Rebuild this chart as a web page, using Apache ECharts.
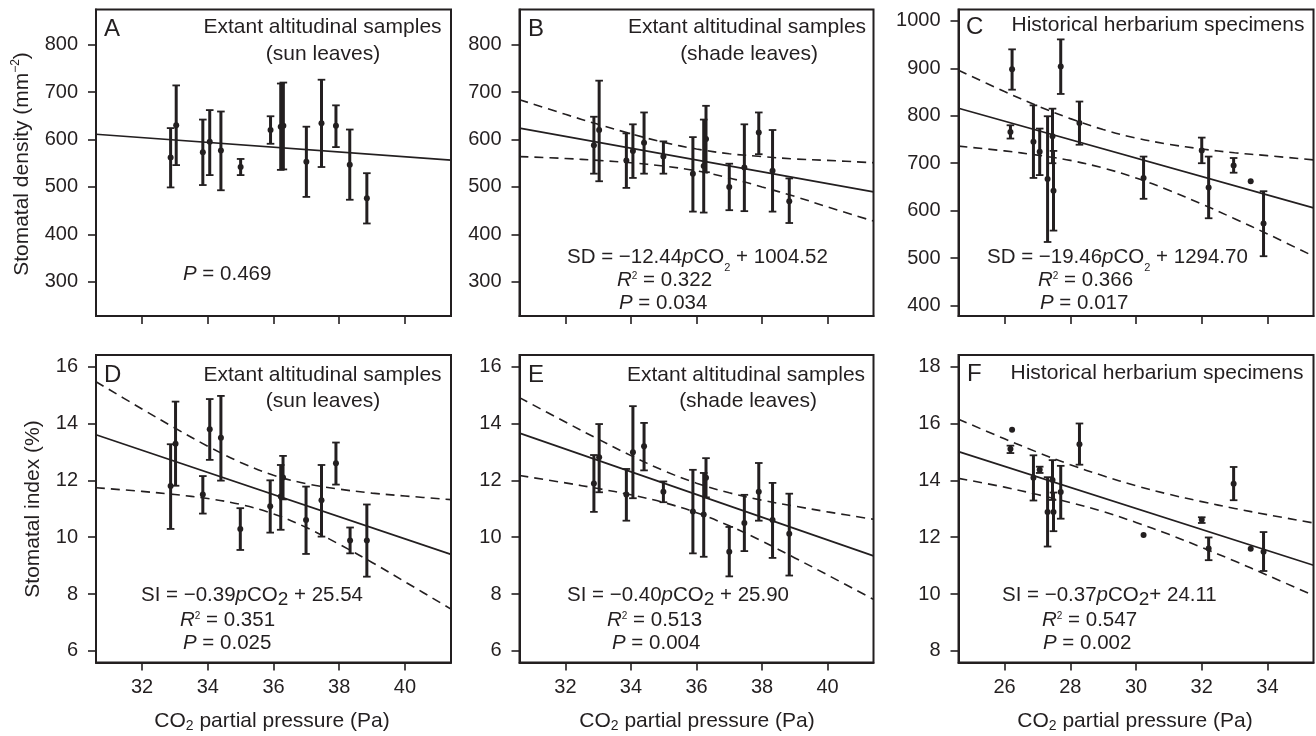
<!DOCTYPE html>
<html>
<head>
<meta charset="utf-8">
<script src="https://cdn.jsdelivr.net/npm/echarts@6/dist/echarts.min.js"></script>
<style>
  html, body { margin: 0; padding: 0; background: #ffffff; }
  #chart { width: 1316px; height: 736px; }
</style>
</head>
<body>
<div id="chart"></div>
<script>
// ---- Extant altitudinal samples, sun leaves: CO2 partial pressure (Pa) ----
const sunX = [32.87, 33.04, 33.85, 34.06, 34.40, 35.00, 35.91, 36.22, 36.30, 37.00, 37.46, 37.90, 38.32, 38.84];
// Stomatal density (mm-2), mean and error-bar ends
const sunSD     = [562, 630, 573, 595, 577, 542, 620, 627, 629, 553, 634, 629, 547, 476];
const sunSDLow  = [499, 546, 504, 525, 493, 525, 591, 536, 537, 479, 542, 584, 473, 423];
const sunSDHigh = [624, 714, 642, 662, 659, 559, 649, 718, 720, 627, 726, 672, 621, 529];
// Stomatal index (%), sun leaves
const sunSIx    = [32.87, 33.02, 33.85, 34.06, 34.40, 34.99, 35.90, 36.22, 36.29, 36.99, 37.46, 37.90, 38.33, 38.84];
const sunSI     = [11.80, 13.29, 11.50, 13.80, 13.50, 10.29, 11.09, 11.43, 12.10, 10.60, 11.30, 12.60, 9.88, 9.88];
const sunSILow  = [10.29, 11.81, 10.83, 12.72, 11.99, 9.55, 10.16, 10.26, 11.33, 9.41, 10.02, 11.85, 9.43, 8.61];
const sunSIHigh = [13.27, 14.77, 12.15, 14.86, 14.97, 11.02, 12.00, 12.54, 12.86, 11.78, 12.54, 13.33, 10.34, 11.15];

// ---- Extant altitudinal samples, shade leaves ----
const shadeX = [32.87, 33.03, 33.86, 34.06, 34.40, 34.99, 35.89, 36.22, 36.29, 37.00, 37.46, 37.90, 38.32, 38.83];
const shadeSD     = [588, 620, 556, 576, 593, 564, 528, 544, 601, 500, 541, 615, 534, 470];
const shadeSDLow  = [528, 512, 498, 519, 528, 528, 448, 446, 531, 451, 449, 569, 448, 424];
const shadeSDHigh = [648, 724, 613, 632, 657, 596, 605, 642, 671, 549, 632, 657, 620, 518];
const shadeSI     = [11.89, 12.81, 11.50, 12.99, 13.20, 11.60, 10.90, 10.80, 12.09, 9.49, 10.50, 11.60, 10.60, 10.12];
const shadeSILow  = [10.89, 11.58, 10.58, 11.37, 12.35, 11.23, 9.43, 9.31, 11.40, 8.62, 9.51, 10.58, 9.27, 8.65];
const shadeSIHigh = [12.89, 13.98, 12.40, 14.61, 14.02, 11.96, 12.37, 12.26, 12.78, 10.36, 11.49, 12.61, 11.91, 11.53];

// ---- Historical herbarium specimens (null = no error bar) ----
const herbX = [26.18, 26.23, 26.88, 27.07, 27.31, 27.46, 27.49, 27.71, 28.28, 30.23, 32.00, 32.21, 32.97, 33.49, 33.88];
const herbSD     = [766, 898, 745, 724, 667, 757, 642, 904, 785, 669, 727, 649, 695, 662, 573];
const herbSDLow  = [752, 855, 669, 675, 534, 700, 558, 846, 739, 625, 700, 584, 680, null, 504];
const herbSDHigh = [780, 940, 822, 773, 799, 815, 726, 961, 830, 714, 754, 714, 711, null, 641];
const herbSI     = [15.10, 15.78, 14.09, 14.37, 12.89, 14.01, 12.89, 13.59, 15.27, 12.08, 12.61, 11.60, 13.88, 11.59, 11.49];
const herbSILow  = [14.96, null, 13.29, 14.26, 11.67, 13.31, 12.21, 12.65, 14.55, null, 12.50, 11.19, 13.30, null, 10.81];
const herbSIHigh = [15.22, null, 14.88, 14.48, 14.11, 14.71, 13.57, 14.51, 16.00, null, 12.70, 11.99, 14.47, null, 12.18];

// ---- Regression fits, panels A–F (value = slope * pCO2 + intercept) ----
const fitSlope     = [-5.05, -12.44, -19.46, -0.39, -0.40, -0.37];
const fitIntercept = [765.6, 1004.52, 1294.70, 25.54, 25.90, 24.11];

// ---- 95% confidence bands (dashed), read at fixed pCO2 positions ----
const altBandX  = [30.6, 32, 33, 34, 35, 36, 37, 38, 39, 40, 41.4];
const herbBandX = [24.6, 26, 27, 28, 29, 30, 31, 32, 33, 34, 35.4];
const bandBUp = [684, 653, 632, 612, 594, 580, 570, 564, 559, 556, 551];
const bandBLo = [564, 560, 556, 551, 544, 534, 519, 500, 480, 458, 428];
const bandCUp = [896, 851, 821, 794, 771, 753, 740, 730, 722, 716, 707];
const bandCLo = [736, 726, 717, 706, 690, 669, 643, 614, 583, 551, 504];
const bandDUp = [15.47, 14.51, 13.84, 13.20, 12.63, 12.18, 11.88, 11.69, 11.55, 11.45, 11.32];
const bandDLo = [11.74, 11.61, 11.50, 11.36, 11.15, 10.82, 10.34, 9.75, 9.11, 8.43, 7.47];
const bandEUp = [14.91, 14.05, 13.45, 12.87, 12.34, 11.90, 11.56, 11.30, 11.09, 10.89, 10.63];
const bandELo = [12.17, 11.91, 11.71, 11.49, 11.22, 10.86, 10.40, 9.86, 9.27, 8.67, 7.81];
const bandFUp = [16.15, 15.46, 14.99, 14.55, 14.16, 13.81, 13.51, 13.25, 13.01, 12.79, 12.50];
const bandFLo = [14.07, 13.76, 13.50, 13.22, 12.90, 12.52, 12.10, 11.64, 11.16, 10.66, 9.95];

// ---- Axis ticks ----
const altTicks  = [32, 34, 36, 38, 40];
const herbTicks = [26, 28, 30, 32, 34];
const sdTicks   = [300, 400, 500, 600, 700, 800];
const sdHerbTicks = [400, 500, 600, 700, 800, 900, 1000];
const siTicks   = [6, 8, 10, 12, 14, 16];
const siHerbTicks = [8, 10, 12, 14, 16, 18];

// ---- Rendering ----
const ink = '#231f20';
const FONT = '"Liberation Sans", Arial, Helvetica, sans-serif';

// panel layout: [left, width] per column, [top, height] per row
const cols = [[96, 355], [519.5, 354], [958.5, 355]];
const rows = [[9.5, 306.5], [355, 307.5]];

const panels = [
  { x: sunX,   y: sunSD,   lo: sunSDLow,   hi: sunSDHigh,   xr: [30.6, 41.4], yr: [228, 874],     xt: altTicks,  yt: sdTicks,     band: null },
  { x: shadeX, y: shadeSD, lo: shadeSDLow, hi: shadeSDHigh, xr: [30.6, 41.4], yr: [228, 874],     xt: altTicks,  yt: sdTicks,     band: [altBandX, bandBUp, bandBLo] },
  { x: herbX,  y: herbSD,  lo: herbSDLow,  hi: herbSDHigh,  xr: [24.6, 35.4], yr: [378, 1024],    xt: herbTicks, yt: sdHerbTicks, band: [herbBandX, bandCUp, bandCLo] },
  { x: sunSIx, y: sunSI,   lo: sunSILow,   hi: sunSIHigh,   xr: [30.6, 41.4], yr: [5.59, 16.41],  xt: altTicks,  yt: siTicks,     band: [altBandX, bandDUp, bandDLo] },
  { x: shadeX, y: shadeSI, lo: shadeSILow, hi: shadeSIHigh, xr: [30.6, 41.4], yr: [5.59, 16.41],  xt: altTicks,  yt: siTicks,     band: [altBandX, bandEUp, bandELo] },
  { x: herbX,  y: herbSI,  lo: herbSILow,  hi: herbSIHigh,  xr: [24.6, 35.4], yr: [7.59, 18.41],  xt: herbTicks, yt: siHerbTicks, band: [herbBandX, bandFUp, bandFLo] }
];

function errorBar(params, api) {
  const x = api.value(0);
  const top = api.coord([x, api.value(3)]);
  const bot = api.coord([x, api.value(2)]);
  const c = 3.8;
  const st = { stroke: ink, lineWidth: 3 };
  const cap = { stroke: ink, lineWidth: 1.8 };
  return {
    type: 'group',
    children: [
      { type: 'line', shape: { x1: top[0], y1: top[1], x2: bot[0], y2: bot[1] }, style: st },
      { type: 'line', shape: { x1: top[0] - c, y1: top[1], x2: top[0] + c, y2: top[1] }, style: cap },
      { type: 'line', shape: { x1: bot[0] - c, y1: bot[1], x2: bot[0] + c, y2: bot[1] }, style: cap }
    ]
  };
}

const plainNumber = v => String(v);
const grids = [], xAxes = [], yAxes = [], series = [];
panels.forEach((p, i) => {
  const col = cols[i % 3], row = rows[Math.floor(i / 3)];
  const bottomRow = i >= 3;
  grids.push({
    left: col[0], top: row[0], width: col[1], height: row[1],
    show: true, borderColor: ink, borderWidth: 2, backgroundColor: 'transparent'
  });
  xAxes.push({
    type: 'value', gridIndex: i, min: p.xr[0], max: p.xr[1],
    axisLine: { show: true, lineStyle: { color: ink, width: 2 } },
    axisTick: { show: true, length: 8, lineStyle: { color: ink, width: 1.6 }, customValues: p.xt },
    axisLabel: { show: bottomRow, customValues: p.xt, formatter: plainNumber, margin: 15, fontSize: 20, color: ink, fontFamily: FONT },
    splitLine: { show: false }
  });
  yAxes.push({
    type: 'value', gridIndex: i, min: p.yr[0], max: p.yr[1],
    axisLine: { show: true, lineStyle: { color: ink, width: 2 } },
    axisTick: { show: true, length: 8, lineStyle: { color: ink, width: 1.6 }, customValues: p.yt },
    axisLabel: { show: true, customValues: p.yt, formatter: plainNumber, margin: 18, fontSize: 20, color: ink, fontFamily: FONT },
    splitLine: { show: false }
  });

  const bars = [];
  p.x.forEach((x, k) => { if (p.lo[k] != null) bars.push([x, p.y[k], p.lo[k], p.hi[k]]); });
  series.push({
    type: 'custom', xAxisIndex: i, yAxisIndex: i, data: bars,
    encode: { x: 0, y: [2, 3] }, renderItem: errorBar, silent: true, z: 3
  });
  series.push({
    type: 'scatter', xAxisIndex: i, yAxisIndex: i,
    data: p.x.map((x, k) => [x, p.y[k]]),
    symbol: 'circle', symbolSize: 6, itemStyle: { color: ink, opacity: 1 }, silent: true, z: 4
  });
  const s = fitSlope[i], b = fitIntercept[i];
  series.push({
    type: 'line', xAxisIndex: i, yAxisIndex: i,
    data: [[p.xr[0], s * p.xr[0] + b], [p.xr[1], s * p.xr[1] + b]],
    symbol: 'none', lineStyle: { color: ink, width: 1.7 }, silent: true, z: 2
  });
  if (p.band) {
    const [bx, up, lo] = p.band;
    [up, lo].forEach(arr => {
      series.push({
        type: 'line', xAxisIndex: i, yAxisIndex: i,
        data: bx.map((x, k) => [x, arr[k]]),
        smooth: 0.35, symbol: 'none',
        lineStyle: { color: ink, width: 1.6, type: [9, 6] }, silent: true, z: 2
      });
    });
  }
});

// ---- Text ----
function txt(x, y, text, opt) {
  opt = opt || {};
  const size = opt.size || 20.5;
  const lh = opt.lh || size + 3;
  return {
    type: 'text', x: x, y: y, rotation: opt.rot || 0, silent: true,
    style: {
      text: text, fill: ink, fontSize: size, fontFamily: FONT, lineHeight: lh,
      align: opt.align || 'left', verticalAlign: 'middle',
      rich: {
        i:   { fontStyle: 'italic', fontSize: size, fontFamily: FONT, color: ink, lineHeight: lh },
        sub: { fontSize: opt.subSize || 11, fontFamily: FONT, color: ink, lineHeight: opt.subSize || 11, verticalAlign: 'bottom' },
        sup: { fontSize: opt.supSize || 10, fontFamily: FONT, color: ink, lineHeight: opt.supSize || 10, verticalAlign: 'top' }
      }
    }
  };
}

const graphics = [
  // panel letters
  txt(104, 29, 'A', { size: 24 }), txt(528, 29, 'B', { size: 24 }), txt(966, 27, 'C', { size: 24 }),
  txt(104, 375, 'D', { size: 24 }), txt(528, 375, 'E', { size: 24 }), txt(967, 374, 'F', { size: 24 }),
  // panel headings
  txt(322.5, 27, 'Extant altitudinal samples', { size: 21, align: 'center' }),
  txt(323, 54, '(sun leaves)', { size: 21, align: 'center' }),
  txt(747, 27, 'Extant altitudinal samples', { size: 21, align: 'center' }),
  txt(749, 54, '(shade leaves)', { size: 21, align: 'center' }),
  txt(1158, 25, 'Historical herbarium specimens', { size: 21, align: 'center' }),
  txt(322.5, 375, 'Extant altitudinal samples', { size: 21, align: 'center' }),
  txt(323, 401, '(sun leaves)', { size: 21, align: 'center' }),
  txt(746, 375, 'Extant altitudinal samples', { size: 21, align: 'center' }),
  txt(748, 401, '(shade leaves)', { size: 21, align: 'center' }),
  txt(1157, 373, 'Historical herbarium specimens', { size: 21, align: 'center' }),
  // statistics
  txt(183, 274, '{i|P} = 0.469'),
  txt(567, 257, 'SD = −12.44{i|p}CO{sub|2} + 1004.52', { lh: 33, subSize: 11 }),
  txt(617, 280, '{i|R}{sup|2} = 0.322', { lh: 18 }),
  txt(619, 303, '{i|P} = 0.034'),
  txt(987, 257, 'SD = −19.46{i|p}CO{sub|2} + 1294.70', { lh: 33, subSize: 11 }),
  txt(1038, 280, '{i|R}{sup|2} = 0.366', { lh: 18 }),
  txt(1040, 303, '{i|P} = 0.017'),
  txt(141, 595, 'SI = −0.39{i|p}CO{sub|2} + 25.54', { lh: 28, subSize: 19 }),
  txt(180, 620, '{i|R}{sup|2} = 0.351', { lh: 18 }),
  txt(183, 643, '{i|P} = 0.025'),
  txt(567, 595, 'SI = −0.40{i|p}CO{sub|2} + 25.90', { lh: 28, subSize: 19 }),
  txt(607, 620, '{i|R}{sup|2} = 0.513', { lh: 18 }),
  txt(612, 643, '{i|P} = 0.004'),
  txt(1002, 595, 'SI = −0.37{i|p}CO{sub|2}+ 24.11', { lh: 28, subSize: 19 }),
  txt(1042, 620, '{i|R}{sup|2} = 0.547', { lh: 18 }),
  txt(1043, 643, '{i|P} = 0.002'),
  // axis titles
  txt(22, 164, 'Stomatal density (mm{sup|−2})', { size: 21, align: 'center', rot: Math.PI / 2, lh: 24, supSize: 12 }),
  txt(33, 509, 'Stomatal index (%)', { size: 21, align: 'center', rot: Math.PI / 2 }),
  txt(272, 721, 'CO{sub|2} partial pressure (Pa)', { size: 21, align: 'center', lh: 24, subSize: 14 }),
  txt(697, 721, 'CO{sub|2} partial pressure (Pa)', { size: 21, align: 'center', lh: 24, subSize: 14 }),
  txt(1135, 721, 'CO{sub|2} partial pressure (Pa)', { size: 21, align: 'center', lh: 24, subSize: 14 })
];

const chart = echarts.init(document.getElementById('chart'), null, { renderer: 'canvas' });
chart.setOption({
  animation: false,
  backgroundColor: '#ffffff',
  grid: grids,
  xAxis: xAxes,
  yAxis: yAxes,
  series: series,
  graphic: graphics
});
</script>
</body>
</html>
